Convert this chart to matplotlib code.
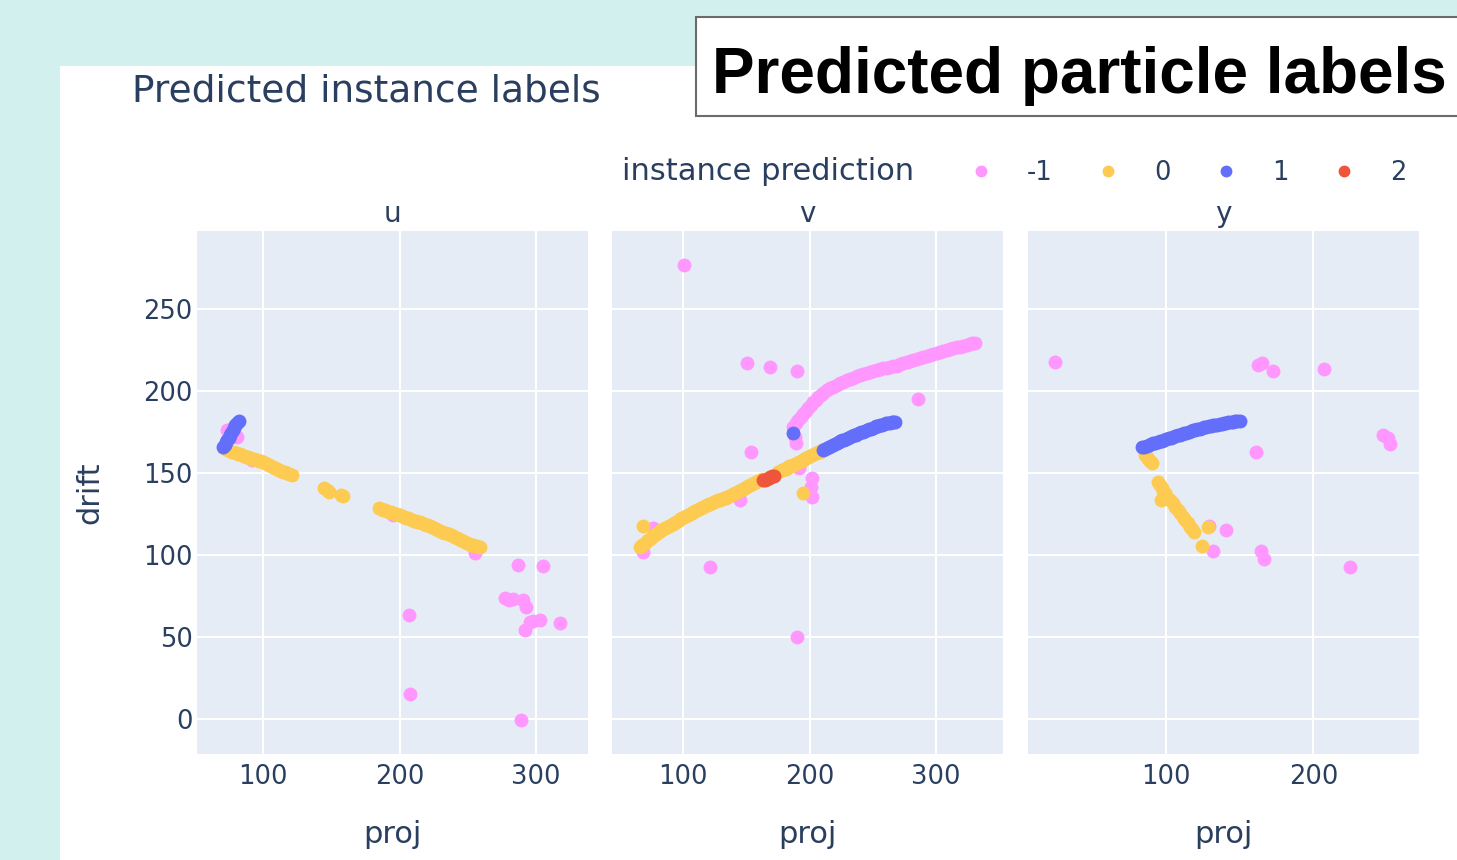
import matplotlib
matplotlib.use("Agg")
import matplotlib.pyplot as plt
from matplotlib.lines import Line2D
from matplotlib.patches import Rectangle

# données : points (proj, drift) par vue et par label
# vue u
u_m1 = [(73.5, 176), (76, 177), (81, 172), (92, 158), (195, 124.3), (255.6, 101), (287, 93.9),
        (305.4, 93.5), (277.2, 73.6), (280.4, 72.6), (283, 73), (290.7, 72.6), (293.2, 68.5),
        (295.6, 59.4), (298, 60), (303, 60.4), (292, 54.4), (317.6, 58.4), (206.9, 63.3),
        (207.4, 15.2), (289.5, -0.4)]
u_0 = [(71, 165), (72.5, 164.5), (74, 164), (75.5, 163.5), (77, 163), (78.5, 162.5), (80, 162),
       (81.5, 161.6), (83, 161.3), (84.5, 160.8), (86, 160.3), (87.5, 159.9), (89, 159.5),
       (90.5, 159), (92, 158.6), (93.5, 158.2), (95, 157.8), (96.5, 157.4), (98, 157),
       (99.5, 156.5), (101, 156), (102.5, 155.5), (104, 155), (105.5, 154.2), (107, 153.5),
       (108.5, 152.9), (110, 152.3), (111.5, 151.8), (113, 151.3), (114.5, 150.8), (116, 150.4),
       (117.5, 149.9), (119, 149.4), (121, 148.7),
       (144.9, 140.6), (147, 139.5), (148.5, 138.5), (157, 136.3), (158.3, 135.9),
       (185.3, 128.4), (186.7, 128), (188, 127.6), (189.5, 127.2), (191, 126.8), (192.5, 126.4),
       (194, 126), (195.5, 125.5), (197, 125.1), (198.5, 124.7), (200, 124.3), (201.5, 123.8),
       (203, 123.3), (204.5, 122.8), (206, 122.3), (207.5, 121.9), (209, 121.5), (210.5, 121),
       (212, 120.6), (213.5, 120.2), (215, 119.8), (216.5, 119.3), (218, 118.9), (219.5, 118.4),
       (221, 118), (222.5, 117.4), (224, 116.9), (225.5, 116.3), (227, 115.8), (228.5, 115.3),
       (230, 114.8), (231.5, 114.2), (233, 113.7), (234.5, 113.1), (236, 112.5), (237.5, 111.9),
       (239, 111.3), (240.5, 110.7), (242, 110.1), (243.5, 109.5), (245, 108.9), (246.5, 108.3),
       (248, 107.8), (249.5, 107.2), (251, 106.7), (252.5, 106.2), (254, 105.8), (255.5, 105.5),
       (257, 105.2), (258.8, 105)]
u_1 = [(70.5, 165.5), (71.5, 167), (72.5, 168.5), (73.5, 170), (74.5, 171.5), (75.5, 173),
       (76.5, 174.5), (77.5, 176), (78.5, 177.5), (79.5, 179), (80.5, 180.3), (82, 181.5)]
u_2 = []

# vue v
v_m1 = [(100.5, 276.5), (150.2, 217), (168.7, 214.6), (189.9, 212.2), (285.7, 195.1),
        (153.4, 162.7), (121.2, 92.9), (190.3, 50.3), (76.2, 116.3), (68.3, 102), (144.9, 133.5),
        (189, 168), (188.5, 172), (201.7, 146.7), (201.2, 141.6), (201.7, 135.5), (191.9, 152.8),
        (187.2, 178.1), (189.1, 180.2), (191.1, 182.2), (193.1, 184.0), (195.1, 185.8),
        (197.0, 187.5), (199.0, 189.3), (201.0, 191.1), (203.0, 192.9), (205.0, 194.6),
        (207.0, 196.3), (209.0, 197.6), (210.9, 198.8), (213.5, 200.2), (216.2, 201.5),
        (218.8, 202.5), (221.5, 203.5), (224.1, 204.5), (226.8, 205.5), (229.4, 206.3),
        (232.1, 207.1), (234.7, 208.0), (237.4, 208.8), (240.0, 209.5), (242.6, 210.2),
        (245.2, 210.8), (247.9, 211.4), (250.5, 212.0), (253.2, 212.6), (255.8, 213.1),
        (258.5, 213.6), (261.1, 214.1), (263.8, 214.6), (266.4, 214.9), (269.1, 215.2),
        (271.7, 216.0), (274.3, 216.7), (277.0, 217.4), (279.6, 218.1), (282.2, 218.7),
        (284.9, 219.3), (287.5, 219.9), (290.2, 220.5), (292.8, 221.1), (295.5, 221.7),
        (298.1, 222.3), (300.8, 223.0), (303.4, 223.5), (306, 224.0), (308.6, 224.6),
        (311.3, 225.2), (313.9, 225.8), (316.6, 226.4), (319.2, 226.9), (321.9, 227.4),
        (324.5, 227.9), (327.2, 228.4), (329.1, 228.8), (331.1, 229.2)]
v_0 = [(67.8, 117.6), (195.1, 137.6),
       (65.7, 105), (67.3, 106), (69, 107), (70.5, 108), (72, 109), (73.5, 110), (75, 111),
       (76.5, 111.9), (78, 112.7), (79.5, 113.5), (81, 114.3), (82.5, 115), (84, 115.6),
       (85.5, 116.3), (87, 117), (88.5, 117.6), (90, 118.3), (91.5, 119), (93, 119.7),
       (94.5, 120.3), (96, 121), (97.5, 121.7), (99, 122.4), (100.5, 123), (102, 123.6),
       (103.5, 124.2), (105, 124.8), (106.5, 125.4), (108, 126), (109.5, 126.6), (111, 127.3),
       (112.5, 128), (114, 128.6), (115.5, 129.1), (117, 129.7), (118.5, 130.2), (120, 130.8),
       (121.5, 131.3), (123, 131.8), (124.5, 132.3), (126, 132.8), (127.5, 133.2), (129, 133.6),
       (130.5, 134), (132, 134.4), (133.5, 134.9), (135, 135.4), (136.5, 136), (138, 136.6),
       (139.5, 137.2), (141, 137.9), (142.5, 138.5), (144, 139.2), (145.5, 139.8), (147, 140.4),
       (148.5, 141), (150, 141.6), (151.5, 142.2), (153, 142.8), (154.5, 143.4), (156, 144),
       (157.5, 144.5), (159, 145), (160.5, 145.5), (162, 146),
       (175, 150.6), (176.5, 151.1), (178, 151.6), (179.5, 152.1), (181, 152.6), (182.5, 153.2),
       (184, 153.9), (185.5, 154.4), (187, 155), (188.5, 155.5), (190, 156.1), (191.5, 156.6),
       (193, 157.2), (194.5, 157.7), (196, 158.3), (197.5, 158.8), (199, 159.4), (200.5, 160),
       (202, 160.6), (203.5, 161.2), (205, 161.8), (206.5, 162.4), (208, 163), (210, 163.7)]
v_1 = [(186.7, 174.4),
       (210.9, 164), (212.5, 164.6), (214, 165.2), (215.5, 165.8), (217, 166.3), (218.5, 166.9),
       (220, 167.5), (221.5, 168), (223, 168.6), (224.5, 169.1), (226, 169.7), (227.5, 170.2),
       (229, 170.8), (230.5, 171.3), (232, 171.8), (233.5, 172.3), (235, 172.8), (236.5, 173.3),
       (238, 173.8), (239.5, 174.2), (241, 174.7), (242.5, 175.1), (244, 175.6), (245.5, 176),
       (247, 176.5), (248.5, 176.9), (250, 177.4), (251.5, 177.8), (253, 178.3), (254.5, 178.7),
       (256, 179.1), (257.5, 179.4), (259, 179.8), (260.5, 180.1), (262, 180.3), (263.5, 180.6),
       (265, 180.8), (266.5, 181), (267.7, 181.1)]
v_2 = [(163, 145.5), (164.5, 145.9), (166, 146.4), (167.5, 146.9), (169, 147.4), (170.5, 147.8),
       (172, 148.3)]

# vue y
y_m1 = [(25, 217.3), (162.7, 215.6), (165.4, 217), (172.9, 212.2), (207.5, 213.4), (247.4, 173),
        (250.8, 171), (252, 167.6), (161, 162.5), (140.9, 115.2), (129.5, 117.5), (132.3, 102.4),
        (164.4, 102.6), (166.8, 97.8), (224.9, 92.9)]
y_0 = [(86, 160.9), (87, 159.7), (88, 158.5), (89.3, 157.1), (90.5, 155.8),
       (95, 144.6), (96.2, 142.6), (97.3, 140.6), (98.4, 139.1), (99.5, 137.6), (101.2, 135.5),
       (102.9, 133.5), (104.6, 131.4), (106.3, 129.4), (108, 127.4), (109.7, 125.4),
       (111.4, 123.3), (113.1, 121.3), (114.8, 119.2), (116.5, 117.2), (118, 115.7),
       (119.4, 114.2), (96.8, 133.5), (128.4, 117.2), (124.4, 105.5)]
y_1 = [(84, 165.5), (85.5, 166), (87, 166.5), (88.5, 167), (90, 167.5), (91.5, 168), (93, 168.4),
       (94.5, 168.8), (96, 169.2), (97.5, 169.6), (99, 170), (100.5, 170.5), (102, 171),
       (103.5, 171.5), (105, 171.9), (106.5, 172.4), (108, 172.8), (109.5, 173.2), (111, 173.6),
       (112.5, 174.1), (114, 174.5), (115.5, 175), (117, 175.4), (118.5, 175.8), (120, 176.2),
       (121.5, 176.6), (123, 177), (124.5, 177.4), (126, 177.7), (127.5, 178), (129, 178.3),
       (130.5, 178.6), (132, 178.9), (133.5, 179.2), (135, 179.4), (136.5, 179.7), (138, 179.9),
       (139.5, 180.2), (141, 180.4), (142.5, 180.7), (144, 180.9), (145.5, 181.1), (147, 181.3),
       (148.5, 181.5), (150, 181.7)]
y_2 = []

labels = ['-1', '0', '1', '2']
colors = ['#FF97FF', '#FECB52', '#636EFA', '#EF553B']
views = ['u', 'v', 'y']
data = {
    'u': [u_m1, u_0, u_1, u_2],
    'v': [v_m1, v_0, v_1, v_2],
    'y': [y_m1, y_0, y_1, y_2],
}
xlims = {'u': (51.3, 338.4), 'v': (43.5, 353.3), 'y': (6.7, 271.6)}
xticks = {'u': [100, 200, 300], 'v': [100, 200, 300], 'y': [100, 200]}
ylim = (-21.1, 297.2)
yticks = [0, 50, 100, 150, 200, 250]

W, H = 1457, 860
txt = '#2a3f5f'
fig = plt.figure(figsize=(W / 100, H / 100), dpi=100)
fig.patch.set_facecolor('#d2f0ee')

# fond blanc de la capture
fig.patches.append(Rectangle((60 / W, 0), 1 - 60 / W, 1 - 66 / H, transform=fig.transFigure,
                             facecolor='white', edgecolor='none', zorder=-5))
# encadré du titre
fig.patches.append(Rectangle((696 / W, 1 - 116 / H), 800 / W, 99 / H, transform=fig.transFigure,
                             facecolor='white', edgecolor='#6b6b6b', lw=1.5, zorder=1))
fig.text(712 / W, 1 - 93 / H, 'Predicted particle labels', fontsize=46, fontweight='bold',
         family='Liberation Sans', color='black', va='baseline', ha='left', zorder=2)

fig.text(132 / W, 1 - 91 / H, 'Predicted instance labels', fontsize=27, color=txt,
         va='center', ha='left')

lefts = [197, 612, 1028]
for i, view in enumerate(views):
    ax = fig.add_axes([lefts[i] / W, 106 / H, 391 / W, 523 / H])
    ax.set_facecolor('#E5ECF6')
    for s in ax.spines.values():
        s.set_visible(False)
    ax.grid(True, color='white', lw=1.5)
    ax.set_axisbelow(True)
    for pts, c in zip(data[view], colors):
        if pts:
            xs, ys = zip(*pts)
            ax.scatter(xs, ys, s=100, color=c, linewidths=0, zorder=3)
    ax.set_xlim(*xlims[view])
    ax.set_ylim(*ylim)
    ax.set_xticks(xticks[view])
    ax.set_yticks(yticks)
    ax.tick_params(length=0, labelsize=18.5, labelcolor=txt, pad=7)
    ax.tick_params(axis='y', pad=3)
    if i > 0:
        ax.tick_params(labelleft=False)
    ax.set_xlabel('proj', fontsize=22, color=txt, labelpad=22)
    ax.text(0.5, 1 + 17 / 523, view, transform=ax.transAxes, ha='center', va='center',
            fontsize=20, color=txt)

fig.text(90 / W, 1 - 493 / H, 'drift', rotation=90, fontsize=22, color=txt,
         ha='center', va='center')

# légende
fig.text(622 / W, 1 - 171 / H, 'instance prediction', fontsize=22, color=txt,
         ha='left', va='center')
handles = [Line2D([], [], marker='o', ls='', color=c, markersize=7.5) for c in colors]
leg = fig.legend(handles, labels, ncol=4, frameon=False, loc='center left',
                 bbox_to_anchor=(968 / W, 1 - 173 / H), fontsize=18.5, handlelength=1,
                 handletextpad=1.3, columnspacing=1.65, borderpad=0, borderaxespad=0)
for t in leg.get_texts():
    t.set_color(txt)

fig.savefig('out.png', dpi=100, facecolor=fig.get_facecolor())
